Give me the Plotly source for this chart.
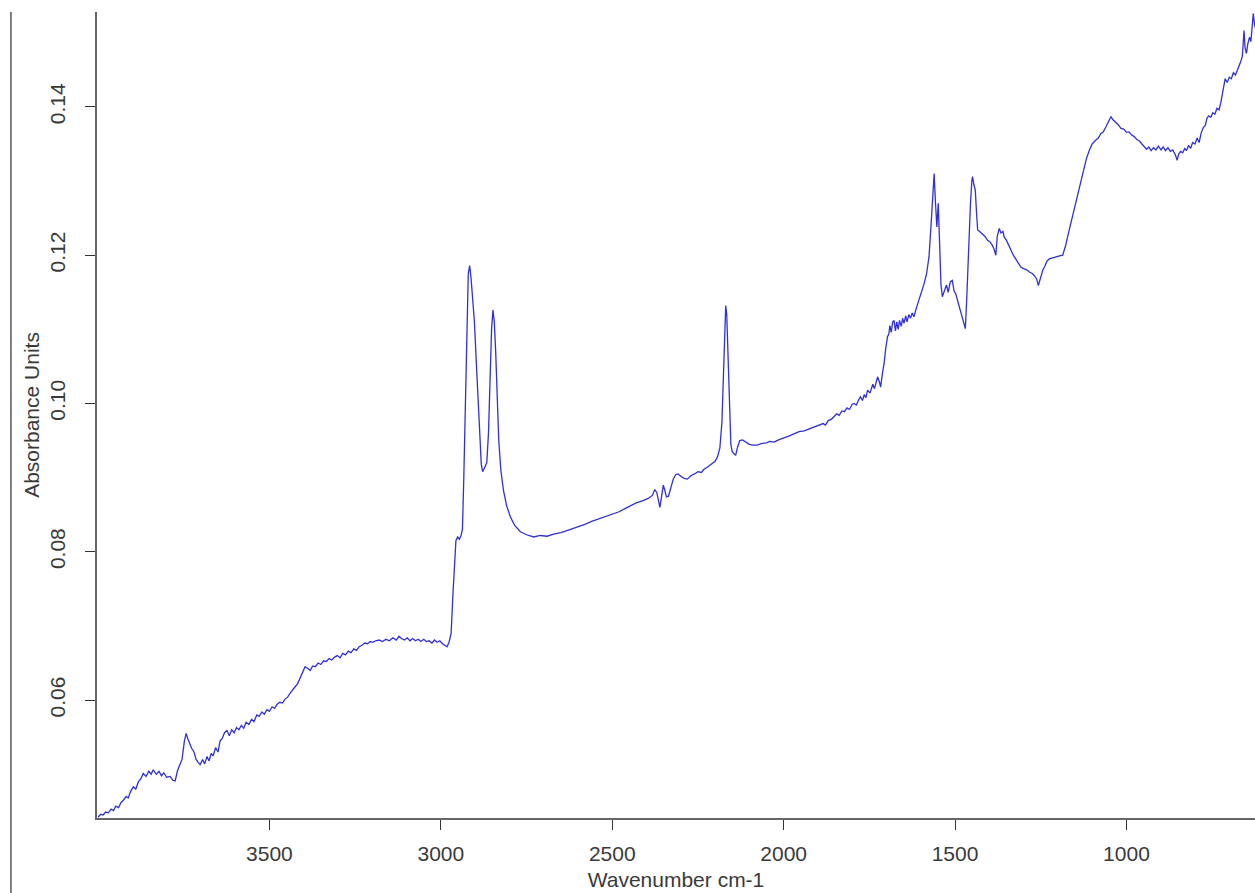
import plotly.graph_objects as go

# (wavenumber cm-1, absorbance) pairs, by region
region_4000_3400 = [
    (4000, .0442), (3992, .0446), (3985, .0445), (3978, .0449), (3970, .0448), (3962, .0453),
    (3955, .0451), (3948, .0457), (3940, .0455), (3933, .0462), (3926, .0465), (3918, .0470),
    (3912, .0468), (3905, .0477), (3897, .0483), (3890, .0480), (3882, .0490), (3875, .0494),
    (3868, .0501), (3860, .0497), (3852, .0504), (3845, .0500), (3839, .0506), (3830, .0500),
    (3822, .0504), (3815, .0498), (3808, .0502), (3800, .0496), (3790, .0497), (3782, .0492),
    (3775, .0491), (3768, .0505), (3762, .0512), (3755, .0520), (3748, .0545), (3743, .0555),
    (3738, .0548), (3732, .0540), (3727, .0535), (3720, .0530), (3714, .0520), (3708, .0516),
    (3702, .0513), (3695, .0520), (3689, .0514), (3682, .0524), (3676, .0518), (3670, .0528),
    (3664, .0525), (3657, .0536), (3650, .0530), (3644, .0545), (3638, .0548), (3631, .0556),
    (3624, .0559), (3617, .0552), (3610, .0560), (3603, .0556), (3596, .0563), (3589, .0560),
    (3582, .0566), (3575, .0562), (3568, .0570), (3560, .0567), (3552, .0574), (3545, .0571),
    (3537, .0580), (3530, .0578), (3522, .0584), (3515, .0581), (3507, .0587), (3500, .0585),
    (3492, .0591), (3485, .0589), (3478, .0594), (3470, .0597), (3462, .0596), (3455, .0601),
    (3447, .0604), (3440, .0609), (3432, .0613), (3425, .0618), (3418, .0622), (3410, .0630),
    (3403, .0636),
]
region_3400_2750 = [
    (3396, .0645), (3389, .0643), (3381, .0640), (3374, .0646), (3366, .0645), (3358, .0650),
    (3350, .0648), (3342, .0653), (3334, .0652), (3326, .0656), (3318, .0654), (3310, .0658),
    (3302, .0660), (3294, .0657), (3286, .0663), (3278, .0661), (3270, .0666), (3262, .0664),
    (3254, .0669), (3246, .0667), (3238, .0672), (3230, .0674), (3222, .0677), (3214, .0676),
    (3206, .0679), (3198, .0678), (3190, .0680), (3180, .0681), (3170, .0679), (3160, .0682),
    (3150, .0680), (3140, .0684), (3130, .0681), (3122, .0686), (3115, .0683), (3106, .0681),
    (3098, .0684), (3090, .0680), (3082, .0683), (3074, .0680), (3066, .0682), (3058, .0679),
    (3050, .0682), (3042, .0679), (3034, .0680), (3026, .0677), (3018, .0681), (3011, .0678),
    (3003, .0680), (2995, .0676), (2988, .0674), (2982, .0672), (2976, .0678), (2970, .0690),
    (2965, .0740), (2960, .0790), (2956, .0815), (2951, .0820), (2946, .0817), (2941, .0822),
    (2937, .0830), (2933, .0900), (2929, .1000), (2925, .1100), (2920, .1175), (2916, .1186),
    (2912, .1170), (2907, .1140), (2902, .1110), (2897, .1060), (2892, .1010), (2887, .0960),
    (2882, .0918), (2878, .0908), (2872, .0915), (2866, .0920), (2861, .0960), (2857, .1030),
    (2852, .1100), (2848, .1126), (2844, .1110), (2840, .1070), (2836, .1000), (2831, .0950),
    (2825, .0910), (2817, .0882), (2808, .0862), (2797, .0847), (2785, .0836), (2768, .0827),
    (2750, .0823),
]
region_2750_1900 = [
    (2729, .0820), (2710, .0822), (2690, .0821), (2671, .0824), (2650, .0826), (2630, .0829),
    (2602, .0833), (2580, .0837), (2560, .0841), (2540, .0844), (2525, .0847), (2500, .0851),
    (2480, .0854), (2460, .0859), (2447, .0862), (2430, .0866), (2410, .0869), (2395, .0872),
    (2383, .0876), (2376, .0884), (2370, .0880), (2365, .0870), (2361, .0860), (2357, .0872),
    (2351, .0890), (2346, .0882), (2342, .0874), (2336, .0875), (2330, .0885), (2322, .0898),
    (2315, .0904), (2308, .0905), (2300, .0902), (2290, .0899), (2281, .0898), (2270, .0903),
    (2260, .0905), (2250, .0908), (2240, .0907), (2233, .0911), (2220, .0915), (2210, .0918),
    (2200, .0922), (2193, .0928), (2186, .0940), (2180, .0975), (2175, .1050), (2171, .1110),
    (2169, .1132), (2166, .1120), (2162, .1060), (2158, .0990), (2154, .0945), (2150, .0935),
    (2145, .0932), (2140, .0930), (2135, .0940), (2128, .0950), (2120, .0951), (2110, .0948),
    (2100, .0945), (2090, .0944), (2077, .0944), (2065, .0946), (2050, .0947), (2040, .0949),
    (2028, .0948), (2015, .0951), (2000, .0953), (1985, .0956), (1970, .0959), (1955, .0962),
    (1940, .0963), (1925, .0966), (1911, .0968),
]
region_1900_1200 = [
    (1900, .0970), (1885, .0973), (1878, .0971), (1870, .0977), (1860, .0979), (1853, .0982),
    (1845, .0986), (1838, .0984), (1830, .0990), (1823, .0989), (1815, .0994), (1808, .0992),
    (1800, .0999), (1795, .1000), (1788, .0998), (1780, .1006), (1776, .1009), (1770, .1004),
    (1765, .1012), (1760, .1008), (1755, .1018), (1748, .1014), (1740, .1026), (1735, .1020),
    (1726, .1036), (1720, .1028), (1717, .1022), (1712, .1040), (1707, .1054), (1702, .1075),
    (1697, .1090), (1693, .1094), (1690, .1105), (1686, .1096), (1682, .1110), (1678, .1112),
    (1674, .1098), (1670, .1110), (1666, .1100), (1662, .1112), (1657, .1104), (1653, .1115),
    (1649, .1108), (1644, .1118), (1640, .1110), (1635, .1120), (1630, .1115), (1625, .1122),
    (1620, .1117), (1612, .1130), (1605, .1140), (1598, .1150), (1590, .1162), (1583, .1175),
    (1576, .1198), (1570, .1240), (1565, .1290), (1561, .1310), (1557, .1270), (1553, .1238),
    (1549, .1270), (1545, .1220), (1541, .1160), (1537, .1144), (1530, .1152), (1525, .1160),
    (1520, .1150), (1514, .1164), (1508, .1166), (1503, .1152), (1498, .1148), (1493, .1139),
    (1487, .1130), (1481, .1120), (1475, .1110), (1470, .1101), (1466, .1140), (1462, .1190),
    (1459, .1216), (1455, .1270), (1451, .1300), (1449, .1306), (1445, .1295), (1441, .1288),
    (1437, .1255), (1434, .1234), (1428, .1232), (1420, .1228), (1412, .1225), (1405, .1220),
    (1398, .1218), (1392, .1214), (1386, .1208), (1381, .1200), (1377, .1225), (1371, .1236),
    (1366, .1230), (1360, .1232), (1357, .1225), (1350, .1220), (1343, .1214), (1337, .1207),
    (1330, .1200), (1322, .1194), (1315, .1190), (1308, .1184), (1300, .1182), (1290, .1180),
    (1282, .1177), (1274, .1175), (1268, .1172), (1262, .1168), (1257, .1159), (1252, .1168),
    (1248, .1172), (1244, .1180), (1238, .1185), (1232, .1192), (1225, .1195), (1215, .1196),
    (1205, .1198),
]
region_1200_620 = [
    (1195, .1199), (1186, .1200), (1178, .1212), (1170, .1228), (1162, .1243), (1155, .1258),
    (1148, .1272), (1140, .1288), (1133, .1301), (1125, .1315), (1117, .1330), (1108, .1342),
    (1100, .1350), (1090, .1355), (1082, .1358), (1075, .1364), (1068, .1366), (1060, .1373),
    (1052, .1380), (1045, .1387), (1040, .1383), (1035, .1381), (1030, .1378), (1024, .1376),
    (1016, .1371), (1008, .1370), (1000, .1366), (992, .1366), (985, .1362), (977, .1360),
    (970, .1356), (962, .1354), (955, .1350), (948, .1347), (941, .1343), (935, .1346),
    (928, .1341), (921, .1345), (914, .1342), (907, .1347), (899, .1342), (893, .1346),
    (886, .1341), (879, .1345), (872, .1340), (865, .1342), (858, .1336), (852, .1328),
    (848, .1336), (842, .1340), (836, .1338), (830, .1344), (825, .1341), (819, .1348),
    (813, .1344), (807, .1352), (800, .1350), (794, .1358), (788, .1352), (782, .1365),
    (776, .1372), (770, .1375), (765, .1385), (760, .1388), (754, .1386), (748, .1392),
    (742, .1390), (736, .1398), (730, .1396), (725, .1405), (720, .1420), (716, .1430),
    (712, .1438), (706, .1433), (700, .1440), (694, .1438), (688, .1446), (682, .1443),
    (676, .1450), (670, .1455), (666, .1462), (662, .1468), (659, .1490), (657, .1503),
    (654, .1480), (650, .1472), (646, .1485), (641, .1494), (637, .1488), (633, .1510),
    (630, .1526), (626, .1510), (621, .1503),
]

x_ticks = [3500, 3000, 2500, 2000, 1500, 1000]
y_ticks = [0.06, 0.08, 0.10, 0.12, 0.14]

points = region_4000_3400 + region_3400_2750 + region_2750_1900 + region_1900_1200 + region_1200_620
wavenumber = [p[0] for p in points]
absorbance = [p[1] for p in points]

font_family = "Liberation Sans, Arial, sans-serif"
text_color = "#3a3a3a"

fig = go.Figure()
fig.add_trace(go.Scatter(
    x=wavenumber, y=absorbance, mode="lines",
    line=dict(color="#3030d8", width=1.3),
    showlegend=False, hoverinfo="skip",
))

fig.update_layout(
    width=1255, height=893,
    margin=dict(l=97, r=0, t=12, b=75),
    paper_bgcolor="white", plot_bgcolor="white",
    font=dict(family=font_family, size=21, color=text_color),
    shapes=[dict(type="line", xref="paper", yref="paper",
                 x0=-0.0743, x1=-0.0743, y0=1.0, y1=-0.1,
                 line=dict(color="#555555", width=1.5))],
)
fig.update_xaxes(
    range=[4003, 625], tickvals=x_ticks, ticktext=[str(v) for v in x_ticks],
    showgrid=False, zeroline=False, showline=True, linecolor="#666666", linewidth=1.5,
    ticks="outside", ticklen=10, tickwidth=1.3, tickcolor="#333333",
    ticklabelstandoff=6,
    title=dict(text="Wavenumber cm-1", standoff=8, font=dict(size=21)),
)
fig.update_yaxes(
    range=[0.0441, 0.1528], tickvals=y_ticks, ticktext=[f"{v:.2f}" for v in y_ticks],
    showgrid=False, zeroline=False, showline=True, linecolor="#666666", linewidth=1.5,
    ticks="outside", ticklen=10, tickwidth=1.3, tickcolor="#333333",
    tickangle=-90, ticklabelstandoff=12,
    title=dict(text="Absorbance Units", standoff=0, font=dict(size=21)),
)

fig.write_html(
    "out.html",
    config={"displayModeBar": False},
    post_script="document.body.style.margin='0';document.body.style.overflow='hidden';",
)
